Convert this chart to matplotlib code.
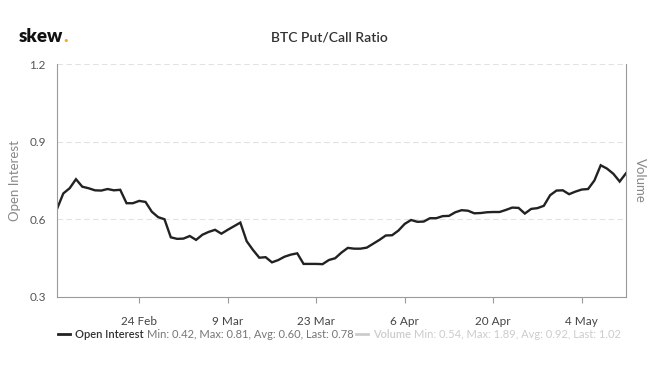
import numpy as np
import pandas as pd
import matplotlib
matplotlib.use("Agg")
import matplotlib.pyplot as plt
import matplotlib.dates as mdates

plt.rcParams['font.family'] = ['Lato', 'DejaVu Sans']

# daily put/call ratio (open interest), 11 Feb - 11 May 2020
dates = pd.date_range("2020-02-11", "2020-05-11", freq="D")
open_interest = [
    0.640, 0.700, 0.720, 0.755, 0.726, 0.720, 0.712, 0.711, 0.717, 0.712,
    0.714, 0.662, 0.662, 0.671, 0.667, 0.629, 0.608, 0.600, 0.530, 0.524,
    0.525, 0.535, 0.520, 0.540, 0.551, 0.559, 0.544, 0.559, 0.573, 0.587,
    0.515, 0.481, 0.451, 0.453, 0.433, 0.442, 0.455, 0.463, 0.468, 0.427,
    0.427, 0.427, 0.426, 0.442, 0.449, 0.471, 0.489, 0.486, 0.486, 0.490,
    0.505, 0.520, 0.537, 0.538, 0.556, 0.582, 0.597, 0.590, 0.591, 0.604,
    0.604, 0.612, 0.613, 0.627, 0.635, 0.633, 0.623, 0.624, 0.627, 0.628,
    0.628, 0.636, 0.645, 0.644, 0.622, 0.640, 0.643, 0.652, 0.693, 0.711,
    0.712, 0.697, 0.707, 0.715, 0.717, 0.750, 0.809, 0.796, 0.776, 0.746,
    0.778,
]
y_ticks = [0.3, 0.6, 0.9, 1.2]
x_ticks = ["2020-02-24", "2020-03-09", "2020-03-23", "2020-04-06", "2020-04-20", "2020-05-04"]
legend_items = [
    ("Open Interest", "Min: 0.42, Max: 0.81, Avg: 0.60, Last: 0.78", "#222222", "#333333", "#777777"),
    ("Volume", "Min: 0.54, Max: 1.89, Avg: 0.92, Last: 1.02", "#cccccc", "#cccccc", "#cccccc"),
]

W, H = 660, 369
fig = plt.figure(figsize=(W / 100, H / 100), dpi=100)
ax = fig.add_axes([57 / W, 1 - 296.7 / H, (626 - 57) / W, (296.7 - 64.3) / H])

ax.plot(dates, open_interest, color="#222222", lw=1.7, solid_joinstyle="miter")

ax.set_ylim(0.3, 1.2)
ax.set_xlim(dates[0], dates[-1])
ax.set_yticks(y_ticks)
ax.set_yticklabels([f"{v:.1f}" for v in y_ticks])
ax.set_xticks(pd.to_datetime(x_ticks))
ax.xaxis.set_major_formatter(mdates.DateFormatter("%-d %b"))

for v in y_ticks[1:]:
    ax.axhline(v, color="#e2e2e2", lw=0.8, ls=(0, (5, 3)), zorder=0)

for side in ["left", "bottom", "right"]:
    ax.spines[side].set_color("#9a9a9a")
    ax.spines[side].set_linewidth(0.8)
ax.spines["top"].set_visible(False)

ax.tick_params(axis="y", length=0, pad=8, labelsize=8.5, labelcolor="#555555")
ax.tick_params(axis="x", length=4, width=0.8, color="#9a9a9a", pad=10,
               labelsize=8.5, labelcolor="#444444")

ax.set_ylabel("Open Interest", color="#888888", fontsize=9.5, labelpad=6)
fig.text(640 / W, 1 - 180 / H, "Volume", rotation=270, color="#888888",
         fontsize=9.5, ha="center", va="center")

# header
fig.text(329 / W, 1 - 38 / H, "BTC Put/Call Ratio", ha="center", va="center",
         fontsize=10, color="#333333", fontweight="semibold")
renderer = fig.canvas.get_renderer()
t = fig.text(19 / W, 1 - 37 / H, "skew", ha="left", va="center", fontsize=13.5,
             fontweight="heavy", color="#111111")
x_end = t.get_window_extent(renderer).x1
fig.text((x_end + 0.5) / W, 1 - 37 / H, ".", ha="left", va="center", fontsize=13.5,
         fontweight="heavy", color="#f5a623")

# legend row, chained left to right
ly = 1 - 334 / H
x = 58
for name, stats, lc, nc, sc in legend_items:
    fig.add_artist(plt.Line2D([x / W, (x + 12) / W], [ly, ly], color=lc, lw=2))
    x += 17
    t = fig.text(x / W, ly, name, ha="left", va="center", fontsize=8,
                 color=nc, fontweight="semibold")
    x = t.get_window_extent(renderer).x1 + 3
    t = fig.text(x / W, ly, stats, ha="left", va="center", fontsize=8, color=sc)
    x = t.get_window_extent(renderer).x1 + 3

fig.savefig("out.png", dpi=100)
